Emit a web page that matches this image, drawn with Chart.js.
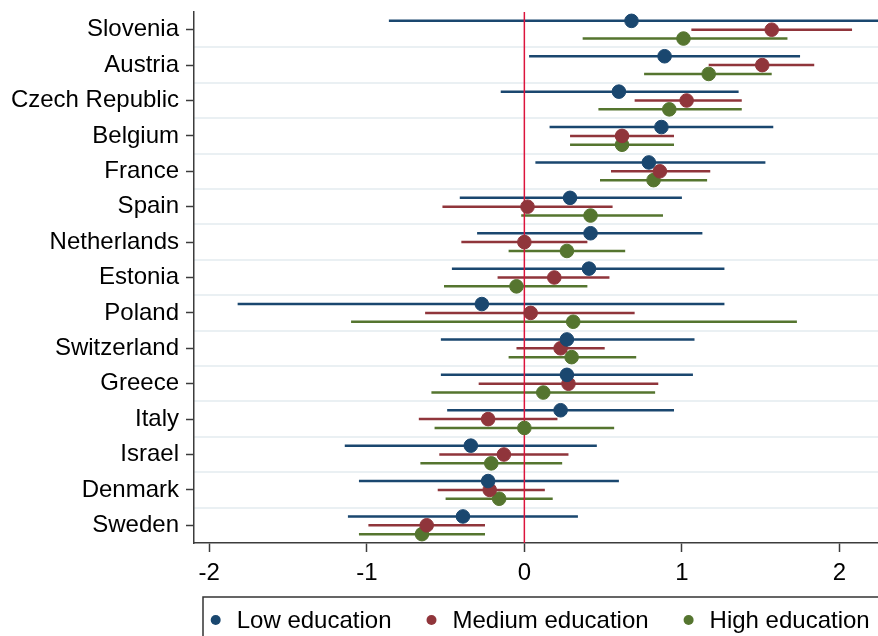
<!DOCTYPE html>
<html><head><meta charset="utf-8">
<script src="https://cdn.jsdelivr.net/npm/chart.js@4/dist/chart.umd.min.js"></script>
<style>html,body{margin:0;padding:0;background:#fff;overflow:hidden}#wrap{width:878px;height:636px;overflow:hidden}</style>
</head><body><div id="wrap"><canvas id="c" width="886" height="636"></canvas></div>
<script>
// ---- data ----
const countries = ['Slovenia','Austria','Czech Republic','Belgium','France','Spain','Netherlands','Estonia','Poland','Switzerland','Greece','Italy','Israel','Denmark','Sweden'];
const seriesNames = ['Low education','Medium education','High education'];
const seriesColors = ['#1a476f','#90353b','#55752f'];

const lowEst = [0.68, 0.89, 0.60, 0.87, 0.79, 0.29, 0.42, 0.41, -0.27, 0.27, 0.27, 0.23, -0.34, -0.23, -0.39];
const lowLo  = [-0.86, 0.03, -0.15, 0.16, 0.07, -0.41, -0.30, -0.46, -1.82, -0.53, -0.53, -0.49, -1.14, -1.05, -1.12];
const lowHi  = [2.30, 1.75, 1.36, 1.58, 1.53, 1.00, 1.13, 1.27, 1.27, 1.08, 1.07, 0.95, 0.46, 0.60, 0.34];

const medEst = [1.57, 1.51, 1.03, 0.62, 0.86, 0.02, 0.00, 0.19, 0.04, 0.23, 0.28, -0.23, -0.13, -0.22, -0.62];
const medLo  = [1.06, 1.17, 0.70, 0.29, 0.55, -0.52, -0.40, -0.17, -0.63, -0.05, -0.29, -0.67, -0.54, -0.55, -0.99];
const medHi  = [2.08, 1.84, 1.38, 0.95, 1.18, 0.56, 0.40, 0.54, 0.70, 0.51, 0.85, 0.21, 0.28, 0.13, -0.25];

const highEst = [1.01, 1.17, 0.92, 0.62, 0.82, 0.42, 0.27, -0.05, 0.31, 0.30, 0.12, 0.00, -0.21, -0.16, -0.65];
const highLo  = [0.37, 0.76, 0.47, 0.29, 0.48, -0.02, -0.10, -0.51, -1.10, -0.10, -0.59, -0.57, -0.66, -0.50, -1.05];
const highHi  = [1.67, 1.57, 1.38, 0.95, 1.16, 0.88, 0.64, 0.40, 1.73, 0.71, 0.83, 0.57, 0.24, 0.18, -0.25];

const xTicks = [-2, -1, 0, 1, 2];
const refLine = 0;

// ---- build datasets ----
const series = [
  {est: lowEst, lo: lowLo, hi: lowHi},
  {est: medEst, lo: medLo, hi: medHi},
  {est: highEst, lo: highLo, hi: highHi}
];
const offsets = [-0.25, 0, 0.25];
const FONT = '"Liberation Sans", Arial, sans-serif';

const datasets = [];
series.forEach((s, k) => {
  const pts = [];
  s.lo.forEach((lo, i) => {
    const y = i + 1 + offsets[k];
    pts.push({x: lo, y: y}, {x: s.hi[i], y: y}, {x: null, y: null});
  });
  datasets.push({
    type: 'line', label: seriesNames[k] + ' CI', data: pts,
    borderColor: seriesColors[k], borderWidth: 2.5, pointRadius: 0, pointHoverRadius: 0,
    spanGaps: false, tension: 0, fill: false, order: 3
  });
});
datasets.push({
  type: 'line', label: 'zero', data: [{x: refLine, y: 0.5}, {x: refLine, y: 15.5}],
  borderColor: '#dc143c', borderWidth: 1.5, pointRadius: 0, pointHoverRadius: 0, fill: false, order: 2
});
series.forEach((s, k) => {
  datasets.push({
    type: 'scatter', label: seriesNames[k],
    data: s.est.map((v, i) => ({x: v, y: i + 1 + offsets[k]})),
    backgroundColor: seriesColors[k], borderColor: seriesColors[k], borderWidth: 1,
    pointRadius: 6.8, pointHoverRadius: 6.8, order: 1
  });
});

const legendBox = {
  id: 'legendBox',
  afterDraw(chart) {
    const ctx = chart.ctx;
    ctx.save();
    ctx.strokeStyle = '#333';
    ctx.lineWidth = 1.5;
    ctx.strokeRect(203, 597, 800, 80);
    ctx.font = '24px ' + FONT;
    ctx.textBaseline = 'middle';
    ctx.textAlign = 'left';
    let x = 215.7; const y = 620;
    seriesNames.forEach((name, k) => {
      ctx.fillStyle = seriesColors[k];
      ctx.beginPath(); ctx.arc(x, y, 5, 0, Math.PI * 2); ctx.fill();
      ctx.fillStyle = '#000';
      ctx.fillText(name, x + 21, y + 1);
      x = x + 21 + ctx.measureText(name).width + 40;
    });
    ctx.restore();
  }
};

new Chart(document.getElementById('c'), {
  type: 'scatter',
  data: {datasets},
  options: {
    responsive: false, animation: false,
    layout: {padding: {top: 12, left: 0, right: 0, bottom: 0}},
    plugins: {legend: {display: false}, tooltip: {enabled: false}},
    scales: {
      x: {
        type: 'linear', position: 'bottom', min: -2.097, max: 2.246,
        afterBuildTicks: (a) => { a.ticks = xTicks.map(v => ({value: v})); },
        afterFit: (a) => { a.height = 93; a.paddingLeft = 0; a.paddingRight = 0; },
        grid: {drawOnChartArea: false, drawTicks: true, tickLength: 9, tickColor: '#3c3c3c', tickWidth: 1.5},
        border: {display: true, color: '#3c3c3c', width: 1.5},
        ticks: {font: {family: FONT, size: 24}, color: '#000', padding: 7, autoSkip: false, maxRotation: 0,
                callback: (v) => String(v)}
      },
      y: {
        type: 'linear', position: 'left', reverse: true, min: 0.5, max: 15.5,
        afterBuildTicks: (a) => { a.ticks = countries.map((c, i) => ({value: i + 1})); },
        afterFit: (a) => { a.width = 194; a.paddingTop = 0; a.paddingBottom = 0; },
        grid: {drawOnChartArea: false, drawTicks: true, tickLength: 8, tickColor: '#3c3c3c', tickWidth: 1.5},
        border: {display: true, color: '#3c3c3c', width: 1.5},
        ticks: {font: {family: FONT, size: 24}, color: '#000', padding: 7, autoSkip: false,
                callback: (v) => countries[Math.round(v) - 1]}
      },
      yGrid: {
        type: 'linear', position: 'right', reverse: true, min: 0.5, max: 15.5,
        afterBuildTicks: (a) => { a.ticks = countries.slice(1).map((c, i) => ({value: i + 1.5})); },
        afterFit: (a) => { a.width = 0; a.paddingTop = 0; a.paddingBottom = 0; },
        grid: {drawOnChartArea: true, drawTicks: false, color: '#eaf0f3', lineWidth: 2},
        border: {display: false},
        ticks: {display: false}
      }
    }
  },
  plugins: [legendBox]
});
</script>
</body></html>
